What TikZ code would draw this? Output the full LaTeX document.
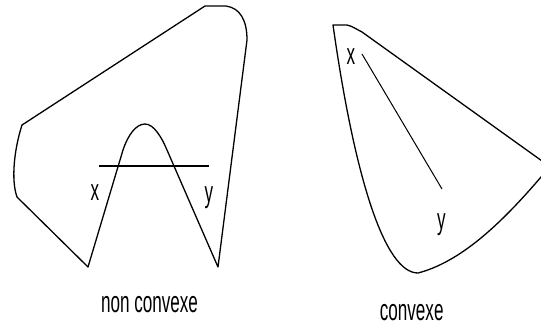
\documentclass[tikz,border=0pt]{standalone}
\usepackage{fontspec}
\newfontfamily\lblfont[FakeStretch=0.57]{Liberation Sans}
\begin{document}
\begin{tikzpicture}[x=1pt,y=-1pt,
  outline/.style={line width=1.3pt,line join=round},
  seg/.style={line width=1pt},
  thickseg/.style={line width=1.9pt},
  lbl/.style={inner sep=0pt,anchor=base,font=\lblfont\fontsize{30}{30}\selectfont}]
\useasboundingbox (0,0) rectangle (541,327);
\clip (0,0) rectangle (541,327);
% non convex shape
\draw[outline] (88,267) -- (17,197) .. controls (11,180) and (14,150) .. (22,125)
  -- (205,6) -- (226,6) .. controls (240,8) and (247,20) .. (247,40)
  -- (218,267) -- (167,150) .. controls (162,138) and (154,124) .. (145,124)
  .. controls (136,124) and (128,135) .. (123,150) -- cycle;
\coordinate (a1) at (99,166);
\coordinate (a2) at (209,166);
\draw[thickseg] (a1) -- (a2);
\node[lbl] (lx) at (95,200) {x};
\node[lbl] (ly) at (209,202) {y};
\node[lbl] (t1) at (149.5,312) {non convexe};
% convex shape
\draw[outline] (333,25) -- (347,25) .. controls (352,26) and (356,29) .. (362,32)
  -- (549,166) -- (541,177) .. controls (500,225) and (460,262) .. (418,273)
  .. controls (385,273) and (355,180) .. (333,25) -- cycle;
\coordinate (b1) at (362,54);
\coordinate (b2) at (442,189);
\draw[seg] (b1) -- (b2);
\node[lbl] (rx) at (351,64) {x};
\node[lbl] (ry) at (441.5,229) {y};
\node[lbl] (t2) at (411.7,320) {convexe};
\end{tikzpicture}
\end{document}
